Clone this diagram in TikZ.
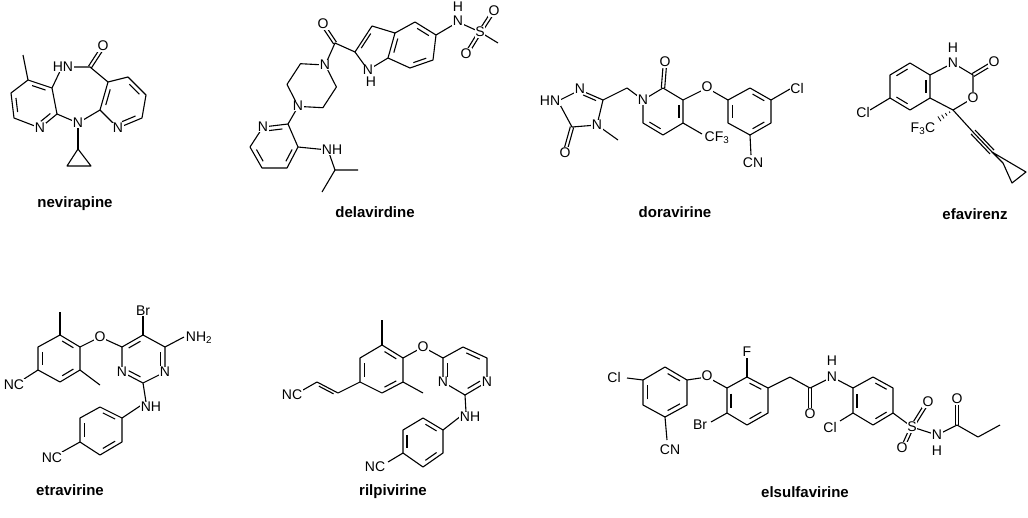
\documentclass[tikz,border=0pt]{standalone}
\usepackage{fontspec}
\setmainfont{Liberation Sans}
\usetikzlibrary{calc}
\newcommand\dbl[3]{\draw ($#1!0.15!#2!0.2!#3$) -- ($#2!0.15!#1!0.2!#3$);}
\newcommand\dbx[2]{\draw ($#1!1.7pt!90:#2$) -- ($#2!1.7pt!-90:#1$); \draw ($#1!1.7pt!-90:#2$) -- ($#2!1.7pt!90:#1$);}
\begin{document}
\begin{tikzpicture}[x=1pt,y=-1pt,line width=1.1pt,line join=round,
  atom/.style={fill=white,inner sep=0.6pt,font=\fontsize{14}{14}\selectfont},
  title/.style={font=\fontsize{15}{15}\selectfont\bfseries}]
\useasboundingbox (0,0) rectangle (1028,517);
% ---------- nevirapine
\draw (23,55)--(28,80);
\draw (28,80)--(11,93)--(14,118)--(40,128)--(57,114)--(52,88)--cycle;
\dbl{(28,80)}{(52,88)}{(34,103)} \dbl{(11,93)}{(14,118)}{(34,103)} \dbl{(40,128)}{(57,114)}{(34,103)}
\draw (52,88)--(62,67)--(90,67)--(108,82);
\dbx{(90,67)}{(103,47)}
\draw (108,82)--(128,77)--(146,95)--(142,118)--(118,128)--(100,110)--cycle;
\dbl{(108,82)}{(100,110)}{(124,102)} \dbl{(128,77)}{(146,95)}{(124,102)} \dbl{(142,118)}{(118,128)}{(124,102)}
\draw (57,114)--(78,123)--(100,110); \draw (78,123)--(78,149);
\draw (78,149)--(67,166)--(91,166)--cycle;
\node[atom] (nO) at (103,46) {O}; \node[atom] (nHN) at (63,67) {HN};
\node[atom] (nN1) at (40,128) {N}; \node[atom] (nN2) at (78,123) {N}; \node[atom] (nN3) at (118,128) {N};
\node[title] (t1) at (75,204) {nevirapine};
% ---------- delavirdine
\draw (325.2,65)--(300.5,63.7)--(287,84.4)--(298.2,106.4)--(322.9,107.7)--(336.4,87)--cycle;
\draw (325.2,65)--(335,43)--(355,52); \dbx{(335,43)}{(323,25)}
\draw (355,52)--(372,26)--(395,33)--(388,58)--(368,70)--cycle; \dbl{(355,52)}{(372,26)}{(376,48)}
\draw (395,33)--(415,22)--(436,35)--(433,60)--(410,68)--(388,58);
\dbl{(395,33)}{(388,58)}{(413,46)} \dbl{(415,22)}{(436,35)}{(413,46)} \dbl{(433,60)}{(410,68)}{(413,46)}
\draw (436,35)--(458,22)--(480,32)--(498,43); \dbx{(480,32)}{(493,12)} \dbx{(480,32)}{(467,53)}
\draw (298.2,106.4)--(288,124);
\draw (288,124)--(263,127)--(250,147)--(262,168)--(287,168)--(298,147)--cycle;
\dbl{(288,124)}{(263,127)}{(275,147)} \dbl{(250,147)}{(262,168)}{(275,147)} \dbl{(287,168)}{(298,147)}{(275,147)}
\draw (298,147)--(328,150)--(335,170)--(358,170); \draw (335,170)--(322,192);
\node[atom] at (323,24) {O}; \node[atom] at (325,65) {N}; \node[atom] at (298,106) {N};
\node[atom] at (368,70) {N}; \node[atom] at (371,82) {H};
\node[atom] at (458,21) {N}; \node[atom] at (458,7) {H}; \node[atom] at (480,32) {S};
\node[atom] at (494,11) {O}; \node[atom] at (466,54) {O};
\node[atom] at (263,127) {N}; \node[atom] at (332,150) {NH};
\node[title] (t2) at (375,212) {delavirdine};
% ---------- doravirine
\draw (580,90)--(558,101)--(572,127)--(597,125)--(603,100)--cycle;
\dbl{(580,90)}{(603,100)}{(582,109)} \dbx{(572,127)}{(565,152)}
\draw (597,125)--(618,140); \draw (603,100)--(627,88)--(643,100);
\draw (643,100)--(663,88)--(683,100)--(683,123)--(663,135)--(643,123)--cycle;
\dbl{(683,100)}{(683,123)}{(663,111)} \dbl{(663,135)}{(643,123)}{(663,111)} \dbx{(663,88)}{(665,63)}
\draw (683,123)--(702,134); \draw (683,100)--(707,88)--(728,100);
\draw (728,100)--(750,88)--(771,100)--(771,123)--(750,135)--(728,123)--cycle;
\dbl{(728,100)}{(728,123)}{(750,111)} \dbl{(750,88)}{(771,100)}{(750,111)} \dbl{(771,123)}{(750,135)}{(750,111)}
\draw (771,100)--(790,89); \draw (750,135)--(751,155);
\node[atom] at (580,89) {N}; \node[atom] at (550,101) {HN}; \node[atom] at (565,153) {O};
\node[atom] at (597,125) {N}; \node[atom] at (643,100) {N}; \node[atom] at (665,62) {O};
\node[atom] at (707,87) {O}; \node[atom] at (797,88) {Cl}; \node[atom] at (753,163) {CN};
\node[atom] at (717,138) {CF\textsubscript{3}};
\node[title] (t3) at (675,212) {doravirine};
% ---------- efavirenz
\draw (910,63)--(930,75)--(930,98)--(910,110)--(890,98)--(890,75)--cycle;
\dbl{(890,75)}{(910,63)}{(910,86)} \dbl{(930,75)}{(930,98)}{(910,86)} \dbl{(910,110)}{(890,98)}{(910,86)}
\draw (890,98)--(870,110);
\draw (930,75)--(953,63)--(973,75)--(973,98)--(953,110)--(930,98);
\dbx{(973,75)}{(993,63)}
\foreach \t/\w in {0.2/0.8,0.4/1.5,0.6/2.2,0.8/2.9,1.0/3.6}
  \draw[line width=0.8pt] ($(953,110)!\t!(936,121)!\w pt!90:(936,121)$) -- ($(953,110)!\t!(936,121)!\w pt!-90:(936,121)$);
\draw (953,110)--(973,132); \draw (973,132)--(992,152); \draw ($(973,132)!2.8pt!90:(992,152)$)--($(992,152)!2.8pt!-90:(973,132)$);
\draw ($(973,132)!2.8pt!-90:(992,152)$)--($(992,152)!2.8pt!90:(973,132)$);
\draw (992,152)--(1003,163)--(1012,183)--(1026,172)--cycle;
\node[atom] at (953,63) {N}; \node[atom] at (953,48) {H}; \node[atom] at (994,62) {O};
\node[atom] at (973,98) {O}; \node[atom] at (863,112) {Cl};
\node[atom,fill=none] at (923,129) {F\textsubscript{3}C};
\node[title] (t4) at (975,214) {efavirenz};
% ---------- etravirine
\draw (60,335)--(80,347)--(80,370)--(60,382)--(38,370)--(38,347)--cycle;
\dbl{(38,347)}{(38,370)}{(59,358)} \dbl{(60,335)}{(80,347)}{(59,358)} \dbl{(80,370)}{(60,382)}{(59,358)}
\draw (60,335)--(60,312); \draw (80,370)--(100,385); \draw (38,370)--(24,379);
\draw (80,347)--(100,337)--(122,347);
\draw (122,347)--(143,335)--(165,347)--(165,372)--(143,383)--(122,372)--cycle;
\dbl{(122,347)}{(143,335)}{(143,359)} \dbl{(165,347)}{(165,372)}{(143,359)} \dbl{(143,383)}{(122,372)}{(143,359)}
\draw (143,335)--(143,316); \draw (165,347)--(184,337); \draw (143,383)--(146,402)--(122,418);
\draw (122,418)--(100,407)--(80,418)--(80,442)--(100,455)--(122,442)--cycle;
\dbl{(80,418)}{(80,442)}{(101,430)} \dbl{(100,407)}{(122,418)}{(101,430)} \dbl{(122,442)}{(100,455)}{(101,430)}
\draw (80,442)--(62,452);
\node[atom] at (100,337) {O}; \node[atom] at (143,311) {Br}; \node[atom] at (199,338) {NH\textsubscript{2}};
\node[atom] at (165,372) {N}; \node[atom] at (122,372) {N}; \node[atom] at (151,407) {NH};
\node[atom] at (14,385) {NC}; \node[atom] at (52,458) {NC};
\node[title] (t5) at (70,490) {etravirine};
% ---------- rilpivirine
\draw (382,345)--(403,358)--(403,382)--(382,393)--(360,382)--(360,358)--cycle;
\dbl{(360,358)}{(360,382)}{(382,370)} \dbl{(382,345)}{(403,358)}{(382,370)} \dbl{(403,382)}{(382,393)}{(382,370)}
\draw (382,345)--(382,320); \draw (403,382)--(423,393);
\draw (360,382)--(338,393)--(317,382)--(303,390);
\draw ($(338,393)!0.15!(317,382)!2.8pt!90:(317,382)$)--($(317,382)!0.15!(338,393)!2.8pt!-90:(338,393)$);
\draw (403,358)--(423,347)--(443,358);
\draw (443,358)--(463,347)--(487,358)--(487,382)--(465,395)--(443,382)--cycle;
\dbl{(443,358)}{(443,382)}{(465,370)} \dbl{(463,347)}{(487,358)}{(465,370)} \dbl{(487,382)}{(465,395)}{(465,370)}
\draw (465,395)--(466,412)--(443,430);
\draw (443,430)--(423,418)--(403,430)--(403,453)--(423,467)--(443,453)--cycle;
\dbl{(403,430)}{(403,453)}{(423,442)} \dbl{(423,418)}{(443,430)}{(423,442)} \dbl{(443,453)}{(423,467)}{(423,442)}
\draw (403,453)--(388,462);
\node[atom] at (423,347) {O}; \node[atom] at (487,382) {N}; \node[atom] at (443,382) {N};
\node[atom] at (470,417) {NH}; \node[atom] at (292,395) {NC}; \node[atom] at (375,467) {NC};
\node[title] (t6) at (393,492) {rilpivirine};
% ---------- elsulfavirine
\draw (643,380)--(665,367)--(687,380)--(687,405)--(665,417)--(643,405)--cycle;
\dbl{(665,367)}{(687,380)}{(665,392)} \dbl{(687,405)}{(665,417)}{(665,392)} \dbl{(643,405)}{(643,380)}{(665,392)}
\draw (643,380)--(627,378); \draw (665,417)--(667,440);
\draw (687,380)--(707,377)--(727,388);
\draw (727,388)--(747,377)--(768,388)--(768,413)--(747,425)--(727,413)--cycle;
\dbl{(727,388)}{(727,413)}{(747,401)} \dbl{(747,377)}{(768,388)}{(747,401)} \dbl{(768,413)}{(747,425)}{(747,401)}
\draw (747,377)--(747,358); \draw (727,413)--(711,422);
\draw (768,388)--(790,377)--(810,388)--(832,377)--(853,388); \dbx{(810,388)}{(810,413)}
\draw (853,388)--(873,377)--(893,388)--(893,413)--(873,425)--(853,413)--cycle;
\dbl{(873,377)}{(893,388)}{(873,401)} \dbl{(893,413)}{(873,425)}{(873,401)} \dbl{(853,413)}{(853,388)}{(873,401)}
\draw (853,413)--(840,421);
\draw (893,413)--(912,427)--(937,435)--(957,425)--(978,437)--(1000,425);
\dbx{(912,427)}{(927,403)} \dbx{(912,427)}{(903,447)} \dbx{(957,425)}{(957,400)}
\node[atom] at (614,377) {Cl}; \node[atom] at (670,450) {CN}; \node[atom] at (707,376) {O};
\node[atom] at (747,352) {F}; \node[atom] at (700,425) {Br}; \node[atom] at (810,414) {O};
\node[atom] at (832,377) {N}; \node[atom] at (832,361) {H}; \node[atom] at (830,427) {Cl};
\node[atom] at (912,427) {S}; \node[atom] at (928,402) {O}; \node[atom] at (902,448) {O};
\node[atom] at (937,435) {N}; \node[atom] at (937,451) {H}; \node[atom] at (957,399) {O};
\node[title] (t7) at (805,492) {elsulfavirine};
\end{tikzpicture}
\end{document}
